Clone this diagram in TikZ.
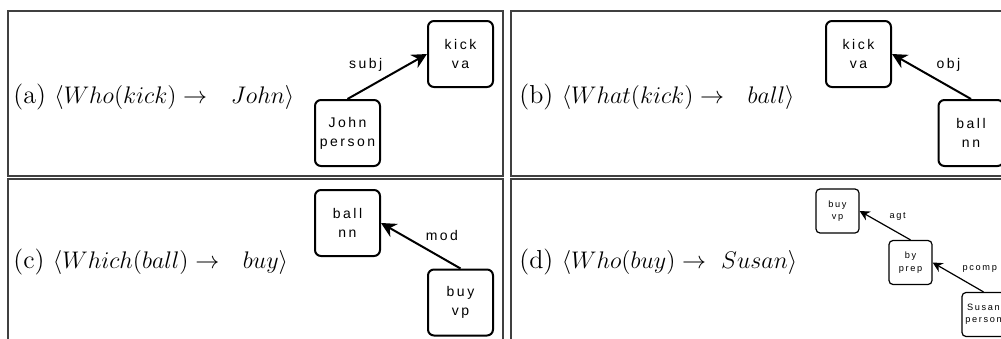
\documentclass[tikz,border=0pt]{standalone}
\usepackage{fontspec}
\usetikzlibrary{arrows.meta}
\newfontfamily\boxfont[LetterSpace=18]{Liberation Sans}

\tikzset{
  panel/.style={draw=black!75, line width=1pt},
  wordbox/.style={draw, line width=1pt, rounded corners=3pt, inner sep=0pt,
    minimum width=32.5pt, minimum height=33pt, align=center,
    font=\boxfont\fontsize{7}{9.5}\selectfont},
  smallbox/.style={draw, line width=0.6pt, rounded corners=2pt, inner sep=0pt,
    minimum width=21.5pt, minimum height=22pt, align=center,
    font=\boxfont\fontsize{4.6}{6.2}\selectfont},
  deparrow/.style={line width=1pt, -{Stealth[length=7.5pt,width=7.5pt]}},
  smallarrow/.style={line width=0.6pt, -{Stealth[length=5pt,width=5pt]}},
  deplabel/.style={font=\boxfont\fontsize{7}{8}\selectfont, inner sep=2pt},
  smalllabel/.style={font=\boxfont\fontsize{4.6}{5}\selectfont, inner sep=2pt},
  question/.style={anchor=west, inner sep=0pt, font=\fontsize{13}{15}\selectfont},
}

\begin{document}
\begin{tikzpicture}[x=0.5pt,y=-0.5pt]
\useasboundingbox (0,0) rectangle (1001,338);
\clip (0,0) rectangle (1001,338);
% frames
\draw[panel] (8,11) rectangle (503,176);
\draw[panel] (511,11) rectangle (1030,176);
\draw[panel] (8,179) rectangle (503,370);
\draw[panel] (511,179) rectangle (1030,370);

% (a)
\node[question] (qa) at (13,97) {(a) $\langle Who(kick) \rightarrow~~ John\rangle$};
\node[wordbox] (kicka) at (460.5,54) {kick\\va};
\node[wordbox] (johna) at (347.5,133) {John\\person};
\draw[deparrow] (johna.north) -- node[deplabel, above left] {subj} (kicka.west);

% (b)
\node[question] (qb) at (519,97) {(b) $\langle What(kick) \rightarrow~~ ball\rangle$};
\node[wordbox] (kickb) at (858.5,54) {kick\\va};
\node[wordbox] (ballb) at (971,133) {ball\\nn};
\draw[deparrow] (ballb.north) -- node[deplabel, above right] {obj} (kickb.east);

% (c)
\node[question] (qc) at (13,262) {(c) $\langle Which(ball) \rightarrow~~ buy\rangle$};
\node[wordbox] (ballc) at (347.5,223) {ball\\nn};
\node[wordbox] (buyc) at (460.5,302.5) {buy\\vp};
\draw[deparrow] (buyc.north) -- node[deplabel, above right] {mod} (ballc.east);

% (d)
\node[question] (qd) at (519,262) {(d) $\langle Who(buy) \rightarrow~ Susan\rangle$};
\node[smallbox] (buyd) at (837.5,211) {buy\\vp};
\node[smallbox] (byd) at (910.5,262.5) {by\\prep};
\node[smallbox] (susand) at (983.5,314.5) {Susan\\person};
\draw[smallarrow] (byd.north) -- node[smalllabel, above right] {agt} (buyd.east);
\draw[smallarrow] (susand.north) -- node[smalllabel, above right] {pcomp} (byd.east);
\end{tikzpicture}
\end{document}
